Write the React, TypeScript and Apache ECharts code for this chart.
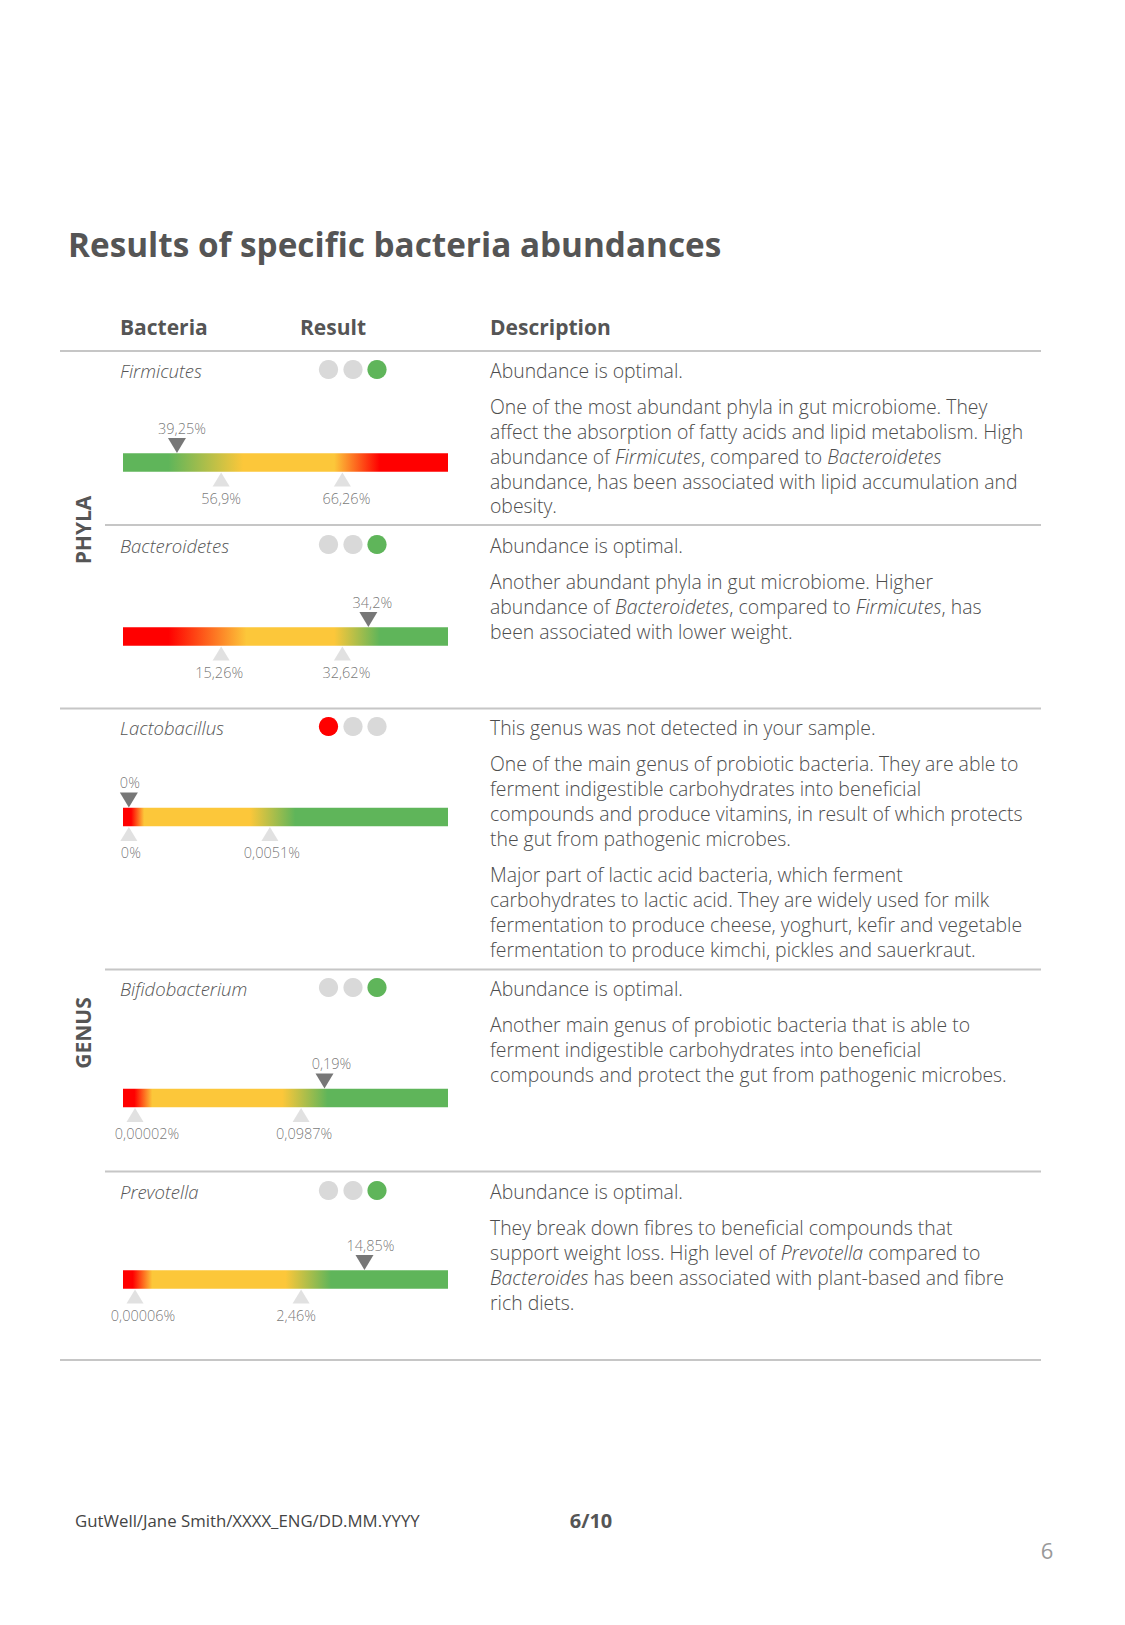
import React, { useEffect, useRef } from "react";
import * as echarts from "echarts";

// ---------- data ----------
const title = "Results of specific bacteria abundances";
const headers = ["Bacteria", "Result", "Description"];
const groupNames = ["PHYLA", "GENUS"];
const bacteria = ["Firmicutes", "Bacteroidetes", "Lactobacillus", "Bifidobacterium", "Prevotella"];
// index of the lit result dot: 0 = red, 1 = yellow, 2 = green
const resultLevel = [2, 2, 0, 2, 2];
const sampleLabels = ["39,25%", "34,2%", "0%", "0,19%", "14,85%"];
// position of the sample marker along the scale bar (0-100 % of bar length)
const samplePos = [16.6, 75.5, 1.8, 62.0, 74.3];
const refLabels = [
  ["56,9%", "66,26%"],
  ["15,26%", "32,62%"],
  ["0%", "0,0051%"],
  ["0,00002%", "0,0987%"],
  ["0,00006%", "2,46%"],
];
const refPos = [
  [30.2, 67.5],
  [30.2, 67.5],
  [1.8, 45.2],
  [3.7, 54.8],
  [3.7, 54.8],
];
const descriptions: string[][][] = [
  [
    ["Abundance is optimal."],
    [
      "One of the most abundant phyla in gut microbiome. They",
      "affect the absorption of fatty acids and lipid metabolism. High",
      "abundance of {i|Firmicutes}, compared to {i|Bacteroidetes}",
      "abundance, has been associated with lipid accumulation and",
      "obesity.",
    ],
  ],
  [
    ["Abundance is optimal."],
    [
      "Another abundant phyla in gut microbiome. Higher",
      "abundance of {i|Bacteroidetes}, compared to {i|Firmicutes}, has",
      "been associated with lower weight.",
    ],
  ],
  [
    ["This genus was not detected in your sample."],
    [
      "One of the main genus of probiotic bacteria. They are able to",
      "ferment indigestible carbohydrates into beneficial",
      "compounds and produce vitamins, in result of which protects",
      "the gut from pathogenic microbes.",
    ],
    [
      "Major part of lactic acid bacteria, which ferment",
      "carbohydrates to lactic acid. They are widely used for milk",
      "fermentation to produce cheese, yoghurt, kefir and vegetable",
      "fermentation to produce kimchi, pickles and sauerkraut.",
    ],
  ],
  [
    ["Abundance is optimal."],
    [
      "Another main genus of probiotic bacteria that is able to",
      "ferment indigestible carbohydrates into beneficial",
      "compounds and protect the gut from pathogenic microbes.",
    ],
  ],
  [
    ["Abundance is optimal."],
    [
      "They break down fibres to beneficial compounds that",
      "support weight loss. High level of {i|Prevotella} compared to",
      "{i|Bacteroides} has been associated with plant-based and fibre",
      "rich diets.",
    ],
  ],
];
const footerLeft = "GutWell/Jane Smith/XXXX_ENG/DD.MM.YYYY";
const footerMid = "6/10";
const pageNo = "6";

// ---------- styles / layout ----------
const W = 1125;
const H = 1625;
const FONT = "'Open Sans', 'Noto Sans', sans-serif";
const TXT = "#555555";
const GREY_DOT = "#d9d9d9";
const GREEN = "#5fb55a";
const YELLOW = "#fcc73a";
const RED = "#ff0000";
const levelColors = [RED, YELLOW, GREEN];
const gradients: [number, string][][] = [
  [[0, GREEN], [0.14, GREEN], [0.37, YELLOW], [0.65, YELLOW], [0.79, RED], [1, RED]],
  [[0, RED], [0.14, RED], [0.38, YELLOW], [0.65, YELLOW], [0.79, GREEN], [1, GREEN]],
  [[0, RED], [0.025, RED], [0.065, YELLOW], [0.39, YELLOW], [0.53, GREEN], [1, GREEN]],
  [[0, RED], [0.035, RED], [0.09, YELLOW], [0.49, YELLOW], [0.63, GREEN], [1, GREEN]],
  [[0, RED], [0.03, RED], [0.09, YELLOW], [0.5, YELLOW], [0.64, GREEN], [1, GREEN]],
];
const rowY = [370, 545, 727, 988, 1191];
const barCenterY = [462.5, 636.5, 817, 1098, 1279.5];
const BAR_LEFT = 123;
const BAR_W = 325;
const BAR_H = 18.5;
const DOT_X = [328.5, 353, 377];
const DOT_R = 9.6;
const LINE_H = 24.9;
const PARA_GAP = 36.3;
const DESC_X = 490;
const DESC_SIZE = 19.4;
const LABEL_SIZE = 14.5;
const LINE_COLOR = "#c6c6c6";
// horizontal nudges of the value labels (px), layout only
const sampleLabelDx = [5, 4, 1, 7, 6];
const refLabelDx = [
  [0, 4],
  [-2, 4],
  [2, 2],
  [12, 3],
  [8, -5],
];

function buildOption() {
  const grid: any[] = [];
  const xAxis: any[] = [];
  const yAxis: any[] = [];
  const series: any[] = [];
  const graphic: any[] = [];

  const labelStyle = {
    show: true,
    position: "inside",
    formatter: "{b}",
    fontSize: LABEL_SIZE,
    fontFamily: FONT,
    fontWeight: 300,
    color: TXT,
  };

  bacteria.forEach((_, i) => {
    grid.push({ left: BAR_LEFT, width: BAR_W, top: barCenterY[i] - BAR_H / 2, height: BAR_H });
    xAxis.push({ type: "value", gridIndex: i, min: 0, max: 100, show: false });
    yAxis.push({ type: "category", gridIndex: i, data: ["scale"], show: false });
    series.push({
      type: "bar",
      xAxisIndex: i,
      yAxisIndex: i,
      data: [100],
      barWidth: BAR_H,
      silent: true,
      itemStyle: {
        color: new echarts.graphic.LinearGradient(
          0, 0, 1, 0,
          gradients[i].map(([offset, color]) => ({ offset, color }))
        ),
      },
    });
    // sample marker (dark, pointing down)
    series.push({
      type: "scatter",
      xAxisIndex: i,
      yAxisIndex: i,
      clip: false,
      silent: true,
      z: 4,
      data: [[samplePos[i], 0]],
      symbol: "triangle",
      symbolRotate: 180,
      symbolSize: [18, 15],
      symbolOffset: [0, -17],
      itemStyle: { color: "#555555" },
    });
    // sample label
    series.push({
      type: "scatter",
      xAxisIndex: i,
      yAxisIndex: i,
      clip: false,
      silent: true,
      z: 5,
      data: [{ value: [samplePos[i], 0], name: sampleLabels[i] }],
      symbolSize: 1,
      itemStyle: { color: "rgba(0,0,0,0)" },
      label: { ...labelStyle, offset: [sampleLabelDx[i], -34.5] },
    });
    // reference markers (grey, pointing up)
    series.push({
      type: "scatter",
      xAxisIndex: i,
      yAxisIndex: i,
      clip: false,
      silent: true,
      z: 4,
      data: refPos[i].map((p) => [p, 0]),
      symbol: "triangle",
      symbolSize: [17, 14],
      symbolOffset: [0, 17],
      itemStyle: { color: GREY_DOT },
    });
    series.push({
      type: "scatter",
      xAxisIndex: i,
      yAxisIndex: i,
      clip: false,
      silent: true,
      z: 5,
      data: refPos[i].map((p, k) => ({
        value: [p, 0],
        name: refLabels[i][k],
        label: { offset: [refLabelDx[i][k], 35.5] },
      })),
      symbolSize: 1,
      itemStyle: { color: "rgba(0,0,0,0)" },
      label: { ...labelStyle, offset: [0, 35.5] },
    });

    // name
    graphic.push({
      type: "text",
      x: 120,
      y: rowY[i],
      silent: true,
      style: {
        text: bacteria[i],
        fontSize: 18.5,
        fontStyle: "italic",
        fontWeight: 300,
        fontFamily: FONT,
        fill: TXT,
        align: "left",
        verticalAlign: "middle",
      },
    });
    // result dots
    DOT_X.forEach((dx, k) => {
      graphic.push({
        type: "circle",
        silent: true,
        shape: { cx: dx, cy: rowY[i] - 0.5, r: DOT_R },
        style: { fill: k === resultLevel[i] ? levelColors[k] : GREY_DOT },
      });
    });
    // description
    let y = rowY[i];
    descriptions[i].forEach((para, pi) => {
      if (pi > 0) y += PARA_GAP - LINE_H;
      para.forEach((line) => {
        graphic.push({
          type: "text",
          x: DESC_X,
          y,
          silent: true,
          style: {
            text: line,
            fontSize: DESC_SIZE,
            fontWeight: 300,
            fontFamily: FONT,
            fill: "#4d4d4d",
            align: "left",
            verticalAlign: "middle",
            rich: {
              i: { fontSize: DESC_SIZE, fontWeight: 300, fontFamily: FONT, fontStyle: "italic", fill: "#4d4d4d" },
            },
          },
        });
        y += LINE_H;
      });
    });
  });

  // title, headers
  graphic.push({
    type: "text",
    x: 68,
    y: 244,
    silent: true,
    style: { text: title, fontSize: 33.3, fontWeight: "bold", fontFamily: FONT, fill: TXT, verticalAlign: "middle" },
  });
  [120, 300, 490].forEach((hx, k) => {
    graphic.push({
      type: "text",
      x: hx,
      y: 327,
      silent: true,
      style: { text: headers[k], fontSize: 21, fontWeight: "bold", fontFamily: FONT, fill: TXT, verticalAlign: "middle" },
    });
  });
  // group labels (vertical)
  [530, 1033].forEach((gy, k) => {
    graphic.push({
      type: "text",
      x: 83,
      y: gy,
      rotation: Math.PI / 2,
      silent: true,
      style: {
        text: groupNames[k],
        fontSize: 21,
        fontWeight: "bold",
        fontFamily: FONT,
        fill: TXT,
        align: "center",
        verticalAlign: "middle",
      },
    });
  });
  // separator lines
  const lines: [number, number][] = [
    [351, 60],
    [525, 105],
    [708.6, 60],
    [969.6, 105],
    [1171.6, 105],
    [1360, 60],
  ];
  lines.forEach(([ly, lx]) => {
    graphic.push({
      type: "line",
      silent: true,
      shape: { x1: lx, y1: ly, x2: 1041, y2: ly },
      style: { stroke: LINE_COLOR, lineWidth: 2 },
    });
  });
  // footer
  graphic.push({
    type: "text",
    x: 75,
    y: 1520,
    silent: true,
    style: { text: footerLeft, fontSize: 16.8, fontFamily: FONT, fill: "#444444", verticalAlign: "middle" },
  });
  graphic.push({
    type: "text",
    x: 591,
    y: 1520,
    silent: true,
    style: { text: footerMid, fontSize: 20, fontWeight: "bold", fontFamily: FONT, fill: TXT, align: "center", verticalAlign: "middle" },
  });
  graphic.push({
    type: "text",
    x: 1047,
    y: 1550,
    silent: true,
    style: { text: pageNo, fontSize: 22, fontFamily: FONT, fill: "#999999", align: "center", verticalAlign: "middle" },
  });

  return {
    animation: false,
    backgroundColor: "#ffffff",
    grid,
    xAxis,
    yAxis,
    series,
    graphic: { elements: graphic },
  };
}

export default function App() {
  const ref = useRef<HTMLDivElement>(null);
  useEffect(() => {
    document.body.style.margin = "0";
    if (!ref.current) return;
    const chart = echarts.init(ref.current, undefined, { renderer: "svg" });
    chart.setOption(buildOption() as any);
    return () => chart.dispose();
  }, []);
  return <div ref={ref} style={{ width: W, height: H }} />;
}
